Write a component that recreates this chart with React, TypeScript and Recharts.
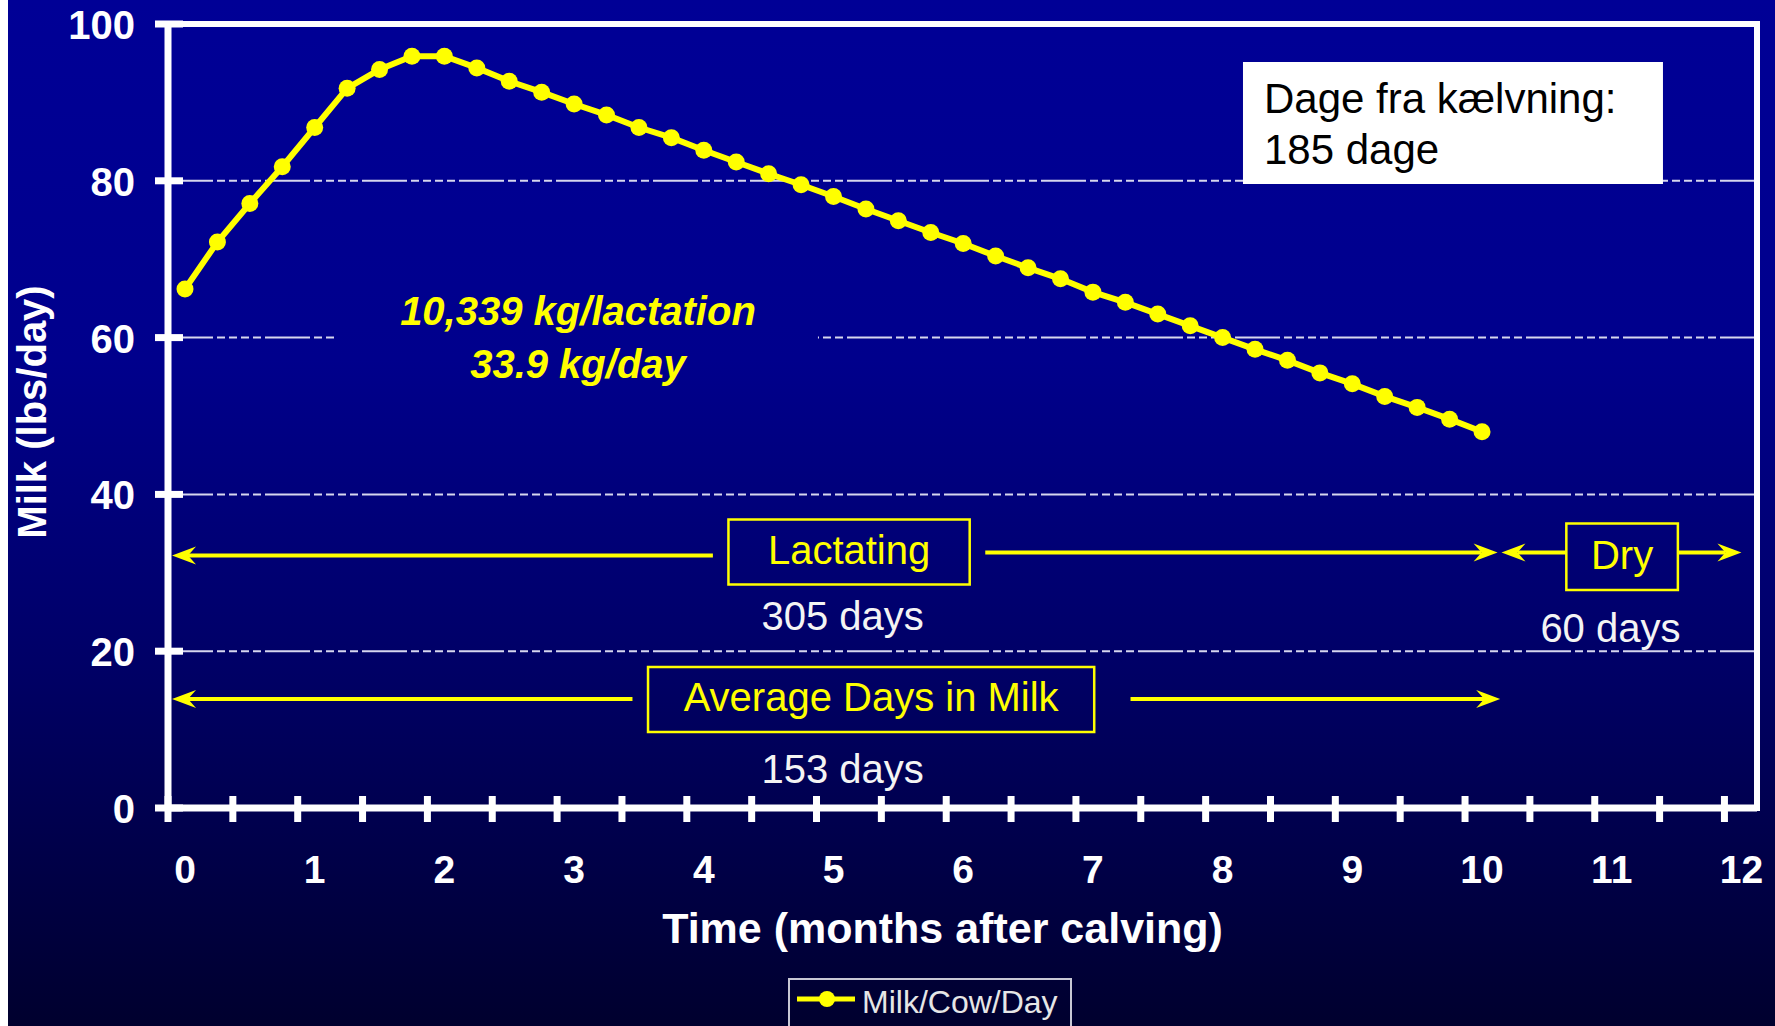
import React from 'react';
import {
  LineChart,
  Line,
  XAxis,
  YAxis,
  CartesianGrid,
  ReferenceLine,
  ReferenceArea,
  ReferenceDot,
  Legend,
} from 'recharts';

// ---------- data ----------
const MONTHS = [
  0, 0.25, 0.5, 0.75, 1, 1.25, 1.5, 1.75, 2, 2.25, 2.5, 2.75, 3, 3.25, 3.5, 3.75, 4, 4.25, 4.5, 4.75,
  5, 5.25, 5.5, 5.75, 6, 6.25, 6.5, 6.75, 7, 7.25, 7.5, 7.75, 8, 8.25, 8.5, 8.75, 9, 9.25, 9.5, 9.75, 10,
];
const MILK = [
  66.2, 72.2, 77.1, 81.8, 86.8, 91.8, 94.2, 95.9, 95.9, 94.4, 92.7, 91.3, 89.8, 88.4, 86.8, 85.5, 83.9,
  82.4, 80.9, 79.5, 78.0, 76.4, 74.9, 73.4, 72.0, 70.4, 68.9, 67.5, 65.8, 64.5, 63.0, 61.5, 60.0, 58.5,
  57.1, 55.5, 54.1, 52.5, 51.1, 49.6, 48.0,
];
const X_LABELS = [0, 1, 2, 3, 4, 5, 6, 7, 8, 9, 10, 11, 12];
const Y_TICKS = [0, 20, 40, 60, 80, 100];
const SERIES_NAME = 'Milk/Cow/Day';
const X_TITLE = 'Time (months after calving)';
const Y_TITLE = 'Milk (lbs/day)';

// ---------- layout / style ----------
const W = 1767;
const H = 1026;
const MARGIN = { top: 24, right: 18, bottom: 217, left: 159 };
const X_MIN = -0.131;
const X_MAX = 12.12;
const MARK_TICKS = Array.from({ length: 25 }, (_, n) => X_MIN + 0.5 * n);
const FONT = '"Liberation Sans", Arial, Helvetica, sans-serif';
const YELLOW = '#ffff00';
const STOPS = [
  { o: '0%', c: '#000096' },
  { o: '35%', c: '#00008c' },
  { o: '65%', c: '#000066' },
  { o: '100%', c: '#00002e' },
];

const data = MONTHS.map((m, i) => ({ month: m, milk: MILK[i] }));

// annotation config (data coordinates)
const ARROWS = [
  { from: [4.07, 32.2], to: [-0.1, 32.2] },
  { from: [6.17, 32.6], to: [10.12, 32.6] },
  { from: [10.65, 32.6], to: [10.15, 32.6] },
  { from: [11.51, 32.6], to: [12.0, 32.6] },
  { from: [3.45, 13.9], to: [-0.1, 13.9] },
  { from: [7.29, 13.9], to: [10.14, 13.9] },
];
const BOXES = [
  { x1: 4.19, x2: 6.05, y1: 28.5, y2: 36.8, text: 'Lactating' },
  { x1: 10.65, x2: 11.51, y1: 27.8, y2: 36.3, text: 'Dry' },
  { x1: 3.57, x2: 7.01, y1: 9.7, y2: 18.0, text: 'Average Days in Milk' },
];
const NOTES = [
  { x: 3.03, y: 61.66, text: '10,339 kg/lactation', color: YELLOW, italic: true, bold: true, size: 40, anchor: 'middle' },
  { x: 3.03, y: 54.9, text: '33.9 kg/day', color: YELLOW, italic: true, bold: true, size: 40, anchor: 'middle' },
  { x: 5.07, y: 22.7, text: '305 days', color: '#f4f4f4', size: 40, anchor: 'middle' },
  { x: 10.99, y: 21.2, text: '60 days', color: '#f4f4f4', size: 40, anchor: 'middle' },
  { x: 5.07, y: 3.2, text: '153 days', color: '#f4f4f4', size: 40, anchor: 'middle' },
  { x: 8.319, y: 88.66, text: 'Dage fra kælvning:', color: '#000', size: 42, anchor: 'start' },
  { x: 8.319, y: 82.17, text: '185 dage', color: '#000', size: 42, anchor: 'start' },
];

// ---------- renderers ----------
const XTick = (props: any) => {
  const { x, y, payload } = props;
  const v = payload.value;
  if (Number.isInteger(v)) {
    return (
      <text x={x} y={y + 75} textAnchor="middle" fill="#fff" fontSize={39} fontWeight="bold" fontFamily={FONT}>
        {v}
      </text>
    );
  }
  return <line x1={x} y1={y - 12} x2={x} y2={y + 14} stroke="#fff" strokeWidth={7} />;
};

const YTick = (props: any) => {
  const { x, y, payload } = props;
  return (
    <g>
      <line x1={x - 13} y1={y} x2={x + 15} y2={y} stroke="#fff" strokeWidth={7} />
      <text x={x - 33} y={y + 15} textAnchor="end" fill="#fff" fontSize={40} fontWeight="bold" fontFamily={FONT}>
        {payload.value}
      </text>
    </g>
  );
};

const arrowShape = (props: any) => {
  const { x1, y1, x2, y2 } = props;
  const dx = x2 - x1;
  const dy = y2 - y1;
  const len = Math.hypot(dx, dy) || 1;
  const ux = dx / len;
  const uy = dy / len;
  const px = -uy;
  const py = ux;
  const L = 24;
  const Wd = 9;
  const N = 16;
  const bx = x2 - ux * L;
  const by = y2 - uy * L;
  const nx = x2 - ux * N;
  const ny = y2 - uy * N;
  const pts = `${x2},${y2} ${bx + px * Wd},${by + py * Wd} ${nx},${ny} ${bx - px * Wd},${by - py * Wd}`;
  return (
    <g>
      <line x1={x1} y1={y1} x2={nx} y2={ny} stroke={YELLOW} strokeWidth={4} />
      <polygon points={pts} fill={YELLOW} />
    </g>
  );
};

const boxLabel = (text: string) => (props: any) => {
  const vb = props.viewBox || {};
  const cx = vb.x + vb.width / 2;
  const cy = vb.y + vb.height / 2;
  return (
    <text x={cx} y={cy + 12} textAnchor="middle" fill={YELLOW} fontSize={40} fontFamily={FONT}>
      {text}
    </text>
  );
};

const noteLabel = (n: any) => (props: any) => {
  const vb = props.viewBox || {};
  const cx = vb.x + (vb.width || 0) / 2;
  const cy = vb.y + (vb.height || 0) / 2;
  return (
    <text
      x={cx}
      y={cy}
      textAnchor={n.anchor}
      fill={n.color}
      fontSize={n.size}
      fontWeight={n.bold ? 'bold' : 'normal'}
      fontStyle={n.italic ? 'italic' : 'normal'}
      fontFamily={FONT}
    >
      {n.text}
    </text>
  );
};

const xTitle = (props: any) => {
  const vb = props.viewBox || {};
  return (
    <text
      x={vb.x + vb.width / 2 - 20}
      y={vb.y + 135}
      textAnchor="middle"
      fill="#fff"
      fontSize={43}
      fontWeight="bold"
      fontFamily={FONT}
    >
      {X_TITLE}
    </text>
  );
};

const yTitle = (props: any) => {
  const vb = props.viewBox || {};
  const x = 38;
  const y = vb.y + vb.height / 2 - 4;
  return (
    <text
      x={x}
      y={y}
      transform={`rotate(-90 ${x} ${y})`}
      textAnchor="middle"
      fill="#fff"
      fontSize={40}
      fontWeight="bold"
      fontFamily={FONT}
    >
      {Y_TITLE}
    </text>
  );
};

const renderLegend = (props: any) => {
  const item = props.payload && props.payload[0];
  return (
    <div
      style={{
        boxSizing: 'border-box',
        width: 284,
        height: 70,
        border: '2px solid #c8c8d4',
        display: 'flex',
        alignItems: 'flex-start',
        paddingTop: 2,
        paddingLeft: 7,
        fontFamily: FONT,
        fontSize: 32,
        lineHeight: '40px',
        color: '#e6e6e6',
      }}
    >
      <svg width={58} height={40} style={{ marginRight: 7, display: 'block' }}>
        <line x1={0} y1={17} x2={58} y2={17} stroke={YELLOW} strokeWidth={5} />
        <circle cx={30} cy={17} r={8} fill={YELLOW} />
      </svg>
      <span>{item ? item.value : SERIES_NAME}</span>
    </div>
  );
};

export default function App() {
  const cssGrad = `linear-gradient(to bottom, ${STOPS.map((s) => `${s.c} ${s.o}`).join(', ')})`;
  return (
    <div
      style={{
        position: 'absolute',
        left: 8,
        top: 0,
        width: W,
        height: H,
        overflow: 'hidden',
        background: cssGrad,
      }}
    >
      <LineChart width={W} height={H} data={data} margin={MARGIN}>
        <defs>
          <linearGradient id="bgGrad" x1="0" y1="0" x2="0" y2={H} gradientUnits="userSpaceOnUse">
            {STOPS.map((s) => (
              <stop key={s.o} offset={s.o} stopColor={s.c} />
            ))}
          </linearGradient>
        </defs>
        <CartesianGrid
          vertical={false}
          stroke="#d6d6ee"
          strokeWidth={2}
          strokeDasharray="45 4 8 4 8 4 8 4 8 4"
        />
        <XAxis
          dataKey="month"
          type="number"
          domain={[X_MIN, X_MAX]}
          allowDataOverflow
          ticks={[...MARK_TICKS, ...X_LABELS]}
          interval={0}
          height={1}
          tickSize={0}
          tickMargin={0}
          tickLine={false}
          axisLine={{ stroke: '#fff', strokeWidth: 7 }}
          tick={XTick}
          label={xTitle}
        />
        <YAxis
          type="number"
          domain={[0, 100]}
          ticks={Y_TICKS}
          interval={0}
          width={1}
          tickSize={0}
          tickMargin={0}
          tickLine={false}
          axisLine={{ stroke: '#fff', strokeWidth: 7 }}
          tick={YTick}
          label={yTitle}
        />
        <ReferenceLine y={100} stroke="#fff" strokeWidth={6} strokeLinecap="square" />
        <ReferenceLine x={X_MAX} stroke="#fff" strokeWidth={6} strokeLinecap="square" />
        <ReferenceArea x1={1.15} x2={4.88} y1={53} y2={66} fill="url(#bgGrad)" fillOpacity={1} stroke="none" />
        <ReferenceArea x1={8.157} x2={11.395} y1={79.6} y2={95.16} fill="#ffffff" fillOpacity={1} stroke="none" />
        {BOXES.map((b) => (
          <ReferenceArea
            key={b.text}
            x1={b.x1}
            x2={b.x2}
            y1={b.y1}
            y2={b.y2}
            fill="none"
            fillOpacity={0}
            stroke={YELLOW}
            strokeWidth={2.5}
            label={boxLabel(b.text)}
          />
        ))}
        {ARROWS.map((a, i) => (
          <ReferenceLine
            key={`arrow-${i}`}
            segment={[
              { x: a.from[0], y: a.from[1] },
              { x: a.to[0], y: a.to[1] },
            ]}
            stroke={YELLOW}
            shape={arrowShape}
          />
        ))}
        {NOTES.map((n, i) => (
          <ReferenceDot
            key={`note-${i}`}
            x={n.x}
            y={n.y}
            r={1}
            fill="none"
            stroke="none"
            label={noteLabel(n)}
          />
        ))}
        <Line
          type="linear"
          dataKey="milk"
          name={SERIES_NAME}
          stroke={YELLOW}
          strokeWidth={6}
          dot={{ r: 8.5, fill: YELLOW, stroke: 'none' }}
          activeDot={false}
          isAnimationActive={false}
        />
        <Legend
          layout="horizontal"
          verticalAlign="middle"
          align="center"
          content={renderLegend}
          wrapperStyle={{ left: 780, top: 978, width: 284, height: 70 }}
        />
      </LineChart>
    </div>
  );
}
